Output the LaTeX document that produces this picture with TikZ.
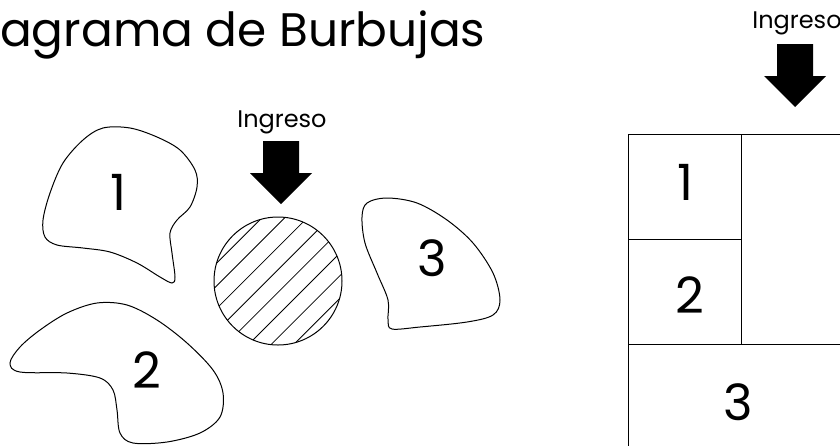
\documentclass[tikz,border=0pt]{standalone}
\usepackage{fontspec}
\setmainfont{Poppins}
\begin{document}
\begin{tikzpicture}[x=1pt,y=-1pt,
  blob/.style={draw=black, line width=1pt},
  num/.style={font=\fontsize{50}{52}\selectfont, inner sep=0pt},
  lbl/.style={font=\fontsize{24}{26}\selectfont, inner sep=0pt},
  ttl/.style={font=\fontsize{47}{50}\selectfont, inner sep=0pt},
  grid/.style={draw=black, line width=1pt},
  hatch/.style={draw=black, line width=0.8pt},
  bigdown/.pic={\fill[black] (-18,-63) -- (18,-63) -- (18,-31) -- (31,-31) -- (0,0) -- (-31,-31) -- (-18,-31) -- cycle;}]
\useasboundingbox (0,0) rectangle (840,445);
\clip (0,0) rectangle (840,445);
% title
\node[ttl, anchor=base east] (di) at (0,46) {Di};
\node[ttl, anchor=base west] (title) at (di.base east) {agrama de Burbujas};
% blob 1
\draw[blob] plot[smooth cycle, tension=0.55] coordinates {
 (45,237) (43,220) (50,193) (63,163) (83,140) (103,128) (130,128) (157,137)
 (180,150) (195,170) (197,187) (190,207) (177,220) (170,233) (172,253) (175,277)
 (172,283) (160,277) (137,263) (110,252) (83,248) (57,245)};
\node[num] (n1) at (118,192) {1};
% blob 2
\draw[blob] plot[smooth cycle, tension=0.55] coordinates {
 (10,363) (20,347) (40,330) (67,313) (97,303) (127,305) (157,320) (187,343)
 (213,370) (223,393) (220,417) (200,433) (167,442) (133,443) (120,433) (117,410)
 (113,390) (100,378) (67,373) (20,372)};
\node[num] (n2) at (147,370) {2};
% blob 3
\draw[blob] plot[smooth cycle, tension=0.55] coordinates {
 (362,217) (367,203) (387,198) (417,203) (447,220) (473,243) (493,273) (500,300)
 (493,315) (467,322) (420,327) (392,329) (388,320) (388,300) (377,273) (365,243)};
\node[num] (n3) at (432,258) {3};
% hub circle
\node[circle, draw=black, line width=1pt, minimum size=128pt, inner sep=0pt] (hub) at (278,281) {};
\begin{scope}
  \clip (278,281) circle (64);
  \foreach \k in {-56,-40,...,56}
    \draw[hatch] ({278+\k*0.7071-90},{281+\k*0.7071+90}) -- ({278+\k*0.7071+90},{281+\k*0.7071-90});
\end{scope}
% middle arrow
\node[lbl] (ing1) at (282,122) {Ingreso};
\pic at (281,204) {bigdown};
% right arrow
\node[lbl] (ing2) at (797,23) {Ingreso};
\pic at (795,107) {bigdown};
% table
\coordinate (tl) at (628,134);
\draw[grid] (628,450) -- (tl) -- (850,134);
\draw[grid] (741,134) -- (741,344);
\draw[grid] (628,239) -- (741,239);
\draw[grid] (628,344) -- (850,344);
\node[num] (t1) at (685,182) {1};
\node[num] (t2) at (690,295) {2};
\node[num] (t3) at (738,402) {3};
\end{tikzpicture}
\end{document}
